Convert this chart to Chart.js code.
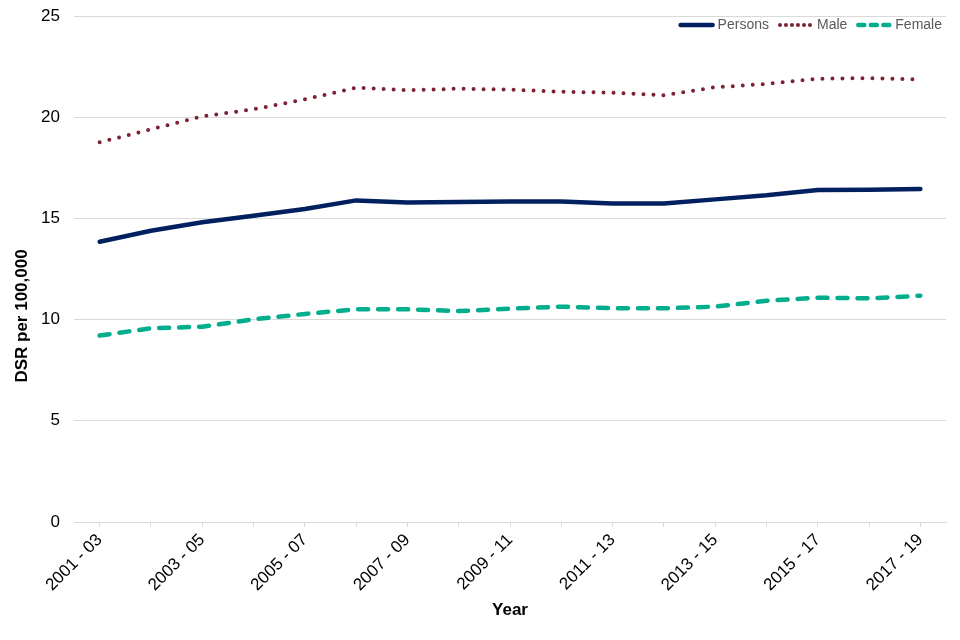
<!DOCTYPE html>
<html>
<head>
<meta charset="utf-8">
<script src="https://cdn.jsdelivr.net/npm/chart.js@4/dist/chart.umd.min.js"></script>
<style>
  html, body { margin: 0; padding: 0; background: #fff; }
  #wrap { width: 960px; height: 640px; }
</style>
</head>
<body>
<div id="wrap"><canvas id="dsrChart"></canvas></div>
<script>
const years = [
  "2001 - 03", "2002 - 04", "2003 - 05", "2004 - 06", "2005 - 07", "2006 - 08",
  "2007 - 09", "2008 - 10", "2009 - 11", "2010 - 12", "2011 - 13", "2012 - 14",
  "2013 - 15", "2014 - 16", "2015 - 17", "2016 - 18", "2017 - 19"
];
const persons = [13.85, 14.39, 14.81, 15.13, 15.46, 15.89, 15.78, 15.81, 15.84, 15.84, 15.74, 15.74, 15.94, 16.14, 16.4, 16.42, 16.45];
const male = [18.76, 19.4, 20.04, 20.39, 20.88, 21.46, 21.33, 21.41, 21.36, 21.26, 21.21, 21.08, 21.48, 21.64, 21.9, 21.93, 21.87];
const female = [9.21, 9.57, 9.65, 10.01, 10.28, 10.51, 10.51, 10.42, 10.54, 10.64, 10.56, 10.56, 10.64, 10.93, 11.08, 11.05, 11.18];
const yTicks = [0, 5, 10, 15, 20, 25];

const FONT = "'Liberation Sans', Arial, sans-serif";
Chart.defaults.font.family = FONT;

// y title is centred on the whole picture, not the plot area
const yTitle = {
  id: "yTitle",
  afterDraw(chart) {
    const ctx = chart.ctx;
    ctx.save();
    ctx.translate(22, 316);
    ctx.rotate(-Math.PI / 2);
    ctx.font = "bold 17px " + FONT;
    ctx.fillStyle = "#000";
    ctx.textAlign = "center";
    ctx.textBaseline = "middle";
    ctx.fillText("DSR per 100,000", 0, 0);
    ctx.restore();
  }
};

// legend sits inside the plot, top right, one row
const legendDash = { Persons: [], Male: [0, 6], Female: [6, 6.5] };
const inlineLegend = {
  id: "inlineLegend",
  afterDraw(chart) {
    const ctx = chart.ctx;
    const sample = 36, gapText = 3, gapItem = 9;
    ctx.save();
    ctx.font = "14px " + FONT;
    const items = chart.data.datasets.map(ds => ({
      ds, w: ctx.measureText(ds.label).width
    }));
    const total = items.reduce((s, it) => s + sample + gapText + it.w, 0) + gapItem * (items.length - 1);
    let x = chart.chartArea.right - 4 - total;
    const y = 25;
    items.forEach(({ ds, w }) => {
      ctx.beginPath();
      ctx.strokeStyle = ds.borderColor;
      ctx.lineWidth = ds.borderWidth;
      ctx.lineCap = "round";
      ctx.setLineDash(legendDash[ds.label]);
      ctx.moveTo(x + 2, y);
      ctx.lineTo(x + sample - 2, y);
      ctx.stroke();
      ctx.setLineDash([]);
      ctx.fillStyle = "#595959";
      ctx.textAlign = "left";
      ctx.textBaseline = "middle";
      ctx.fillText(ds.label, x + sample + gapText, y);
      x += sample + gapText + w + gapItem;
    });
    ctx.restore();
  }
};

new Chart(document.getElementById("dsrChart"), {
  type: "line",
  data: {
    labels: years,
    datasets: [
      {
        label: "Persons",
        data: persons,
        borderColor: "#002060",
        borderWidth: 4.5,
        borderCapStyle: "round",
        pointRadius: 0,
        tension: 0
      },
      {
        label: "Male",
        data: male,
        borderColor: "#7d2234",
        borderWidth: 4,
        borderDash: [0, 10],
        borderCapStyle: "round",
        pointRadius: 0,
        tension: 0
      },
      {
        label: "Female",
        data: female,
        borderColor: "#00ad8c",
        borderWidth: 4.5,
        borderDash: [10, 10],
        borderCapStyle: "round",
        pointRadius: 0,
        tension: 0
      }
    ]
  },
  options: {
    responsive: true,
    maintainAspectRatio: false,
    animation: false,
    layout: { padding: { top: 16, right: 14, left: 0, bottom: 0 } },
    plugins: {
      tooltip: { enabled: false },
      legend: { display: false }
    },
    scales: {
      x: {
        offset: true,
        grid: {
          offset: false,
          drawOnChartArea: false,
          drawTicks: true,
          tickLength: 5,
          color: "#d9d9d9"
        },
        border: { display: true, color: "#d9d9d9", width: 1 },
        ticks: {
          autoSkip: false,
          minRotation: 45,
          maxRotation: 45,
          color: "#000",
          padding: 3,
          font: { size: 17 },
          callback: (val, i) => (i % 2 === 0 ? years[i] : "")
        },
        title: {
          display: true,
          text: "Year",
          color: "#000",
          font: { size: 17, weight: "bold" },
          padding: { top: 0, bottom: 19 }
        },
        afterFit(scale) {
          scale.height = 118;
        }
      },
      y: {
        min: 0,
        max: 25,
        afterBuildTicks(scale) {
          scale.ticks = yTicks.map(v => ({ value: v }));
        },
        grid: { color: "#d9d9d9", drawTicks: false },
        border: { display: false },
        ticks: {
          color: "#000",
          padding: 14,
          font: { size: 17 }
        },
        afterFit(scale) {
          scale.width = 74;
          scale.paddingTop = 0;
          scale.paddingBottom = 0;
        }
      }
    }
  },
  plugins: [yTitle, inlineLegend]
});
</script>
</body>
</html>
